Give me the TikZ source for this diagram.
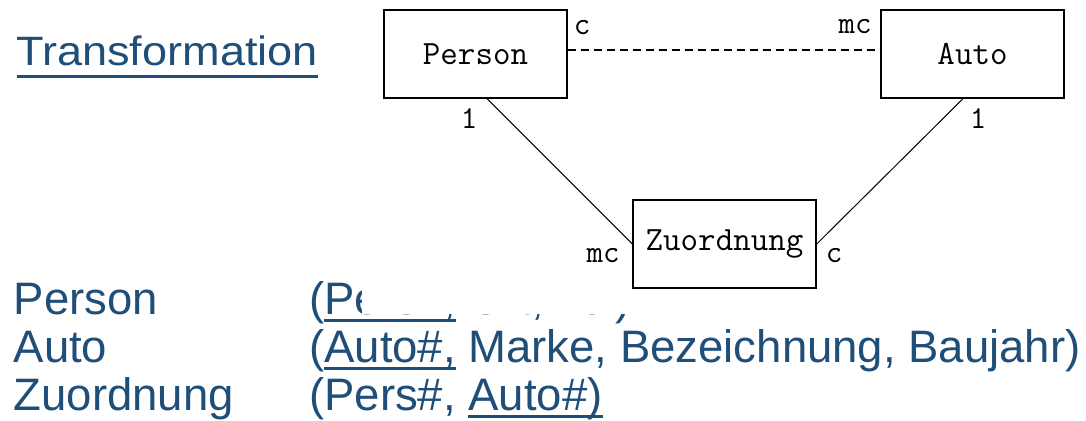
\documentclass[tikz,border=0pt]{standalone}
\usepackage{fontspec}
\usepackage{graphicx}
\setmainfont{Liberation Sans}
\usetikzlibrary{calc}
\definecolor{txtblue}{HTML}{1F4E79}
\newcommand\ulx[1]{\setbox0\hbox{#1}\rlap{\rule[-0.178em]{\wd0}{0.067em}}\box0\relax}
\begin{document}
\begin{tikzpicture}[x=1pt,y=-1pt,
  entity/.style={draw, line width=1.4pt, minimum width=183pt, minimum height=88pt, inner sep=0pt, fill=white, font=\ttfamily\fontsize{34}{34}\selectfont},
  card/.style={inner sep=0pt, anchor=base, font=\ttfamily\fontsize{32}{32}\selectfont},
  rel/.style={line width=1pt},
  reltext/.style={text=txtblue, inner sep=0pt, anchor=base west, font=\fontsize{45.5}{45.5}\selectfont},
  titletext/.style={text=txtblue, inner sep=0pt, anchor=base west, font=\fontsize{41}{41}\selectfont}
]
\useasboundingbox (0,0) rectangle (1086,420);
% relation schemas
\node[reltext] (p1) at (13.5,314) {Person};
\node[reltext] (p2) at (309,314) {(\ulx{Pers\#,} Ort, Tel)};
\node[reltext] (a1) at (13.5,362) {Auto};
\node[reltext] (a2) at (309,362) {(\ulx{Auto\#,} Marke, Bezeichnung, Baujahr)};
\node[reltext] (z1) at (13.5,410) {Zuordnung};
\node[reltext] (z2) at (309,410) {(Pers\#, \ulx{Auto\#)}};
% white background of the diagram picture
\fill[white] (362,0) rectangle (1086,314);
% title
\node[titletext] (title) at (16,65) {\scalebox{1.1}[1]{Transformation}};
\draw[txtblue, line width=3pt] ($(title.base west)+(1,11.5)$) -- ($(title.base east)+(0,11.5)$);
% ER diagram
\node[entity] (person) at (475.5,54) {Person};
\node[entity] (auto) at (972.5,54) {Auto};
\node[entity] (zuo) at (724.5,244) {Zuordnung};
\draw[rel, line width=1.2pt, dash pattern=on 8pt off 5pt] ($(person.east)+(0,-4)$) -- ($(auto.west)+(0,-4)$);
\draw[rel] ($(person.south)+(11.5,0)$) -- (zuo.west);
\draw[rel] ($(auto.south)+(-9.5,0)$) -- (zuo.east);
\node[card] (lc1) at (582,35) {c};
\node[card] (lmc1) at (855,34) {mc};
\node[card] (l11) at (469,128) {1};
\node[card] (l12) at (978,128) {1};
\node[card] (lmc2) at (603,262) {mc};
\node[card] (lc2) at (834,262) {c};
\end{tikzpicture}
\end{document}
